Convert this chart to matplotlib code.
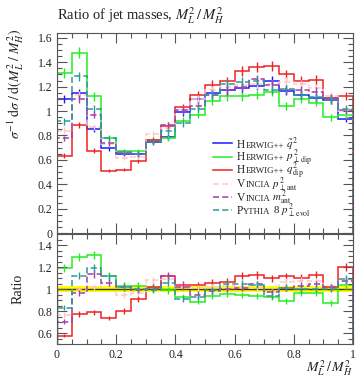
import numpy as np
import matplotlib
matplotlib.use("Agg")
import matplotlib.pyplot as plt
from matplotlib.lines import Line2D
from matplotlib.ticker import MultipleLocator, FuncFormatter
from matplotlib.offsetbox import AnchoredOffsetbox, HPacker, TextArea

plt.rcParams["font.family"] = ["Liberation Serif", "DejaVu Serif"]
plt.rcParams["mathtext.fontset"] = "stix"

# M_L^2 / M_H^2 binning
bin_edges = np.round(np.arange(0.0, 1.0001, 0.05), 2)

herwig_qtilde = [1.10, 1.145, 0.855, 0.695, 0.65, 0.65, 0.75, 0.79, 0.99, 1.095,
                 1.148, 1.17, 1.185, 1.205, 1.25, 1.165, 1.135, 1.11, 1.09, 0.935]
herwig_ptdip = [1.31, 1.48, 1.12, 0.78, 0.67, 0.67, 0.76, 0.78, 0.92, 0.97,
                1.08, 1.12, 1.12, 1.13, 1.155, 1.04, 1.095, 1.07, 0.95, 0.965]
herwig_qdip = [0.635, 0.885, 0.675, 0.512, 0.52, 0.59, 0.765, 0.88, 1.03, 1.13,
               1.215, 1.245, 1.33, 1.36, 1.37, 1.30, 1.25, 1.255, 1.11, 1.125]
vincia_ptant = [0.84, 1.13, 0.87, 0.73, 0.615, 0.625, 0.81, 0.86, 1.01, 1.10,
                1.17, 1.20, 1.21, 1.22, 1.22, 1.24, 1.22, 1.19, 1.12, 1.0]
vincia_mant = [0.775, 1.10, 0.97, 0.735, 0.66, 0.645, 0.75, 0.885, 1.01, 1.04,
               1.13, 1.17, 1.20, 1.26, 1.215, 1.175, 1.17, 1.16, 1.105, 1.005]
pythia_ptevol = [0.915, 1.285, 1.02, 0.775, 0.663, 0.65, 0.745, 0.835, 0.90, 1.02,
                 1.135, 1.225, 1.24, 1.25, 1.175, 1.18, 1.13, 1.115, 1.09, 1.02]

# relative statistical uncertainty of each prediction
rel_err = 0.03

series = [
    ("H", "ERWIG++", r"$\tilde{q}^2$", herwig_qtilde, "#1a1aff", "-"),
    ("H", "ERWIG++", r"$p_{\perp\,\mathrm{dip}}^2$", herwig_ptdip, "#22ee22", "-"),
    ("H", "ERWIG++", r"$q_{\mathrm{dip}}^2$", herwig_qdip, "#ee2222", "-"),
    ("V", "INCIA", r"$p_{\perp\,\mathrm{ant}}^2$", vincia_ptant, "#ffc8c8", (0, (4, 2))),
    ("V", "INCIA", r"$m_{\mathrm{ant}}^2$", vincia_mant, "#a040a8", (0, (4, 2))),
    ("P", "YTHIA", r"8 $p_{\perp\,\mathrm{evol}}^2$", pythia_ptevol, "#309898", (0, (4, 2))),
]

W, H = 356, 380
fig = plt.figure(figsize=(W / 100, H / 100), dpi=100)
ax = fig.add_axes([57 / W, (H - 233) / H, 296 / W, 200 / H])
axr = fig.add_axes([57 / W, (H - 344) / H, 296 / W, 110 / H])

centers = 0.5 * (bin_edges[:-1] + bin_edges[1:])
ref = np.array(herwig_qtilde)

for first, rest, tail, vals, col, ls in series:
    v = np.array(vals)
    ax.stairs(v, bin_edges, color=col, lw=1.1, linestyle=ls)
    ax.errorbar(centers, v, yerr=rel_err * v, fmt="none", ecolor=col, elinewidth=1.0)

# ratio panel relative to the Herwig++ q~^2 prediction
band = rel_err * np.ones_like(ref)
axr.stairs(1 + band, bin_edges, baseline=1 - band, fill=True, color="#ffff00", lw=0)
axr.stairs(np.ones_like(ref), bin_edges, color="#333333", lw=1.0)
for first, rest, tail, vals, col, ls in series[1:]:
    r = np.array(vals) / ref
    axr.stairs(r, bin_edges, color=col, lw=1.1, linestyle=ls)
    axr.errorbar(centers, r, yerr=rel_err * r, fmt="none", ecolor=col, elinewidth=1.0)

fmt = FuncFormatter(lambda x, p: "%g" % round(x, 3))
for a in (ax, axr):
    a.set_xlim(0, 1)
    a.xaxis.set_major_locator(MultipleLocator(0.2))
    a.xaxis.set_minor_locator(MultipleLocator(0.05))
    a.yaxis.set_major_locator(MultipleLocator(0.2))
    a.yaxis.set_minor_locator(MultipleLocator(0.05))
    a.tick_params(which="both", direction="in", top=True, right=True, colors="#555555",
                  labelcolor="#222222", labelsize=8.5, width=0.8)
    a.tick_params(which="major", length=7)
    a.tick_params(which="minor", length=3.5)
    a.yaxis.set_major_formatter(fmt)
    a.xaxis.set_major_formatter(fmt)
    for s in a.spines.values():
        s.set_color("#555555")
        s.set_linewidth(0.8)

ax.set_ylim(0, 1.64)
ax.tick_params(labelbottom=False)
axr.set_ylim(0.5, 1.5)
axr.set_yticks([0.6, 0.8, 1.0, 1.2, 1.4])

fig.text(57 / W, 1 - 20 / H, r"Ratio of jet masses, $M_L^2\,/\,M_H^2$", fontsize=10.5,
         ha="left", va="baseline", color="#222222")
fig.text(16 / W, 1 - 28 / H, r"$\sigma^{-1}\;\mathrm{d}\sigma\;/\;\mathrm{d}(M_L^2\;/\;M_H^2)$",
         rotation=90, ha="center", va="top", fontsize=10, color="#222222")
fig.text(18 / W, 1 - 289 / H, "Ratio", rotation=90, ha="center", va="center",
         fontsize=10, color="#222222")
fig.text(353 / W, 1 - 372 / H, r"$M_L^2\,/\,M_H^2$", ha="right", va="baseline",
         fontsize=10, color="#222222")

# legend with small-caps generator names
row_y0, row_dy = 143.3, 13.4
for i, (first, rest, tail, vals, col, ls) in enumerate(series):
    y = row_y0 + row_dy * i
    yf = (233 - y) / 200
    ax.add_line(Line2D([(213 - 57) / 296, (232 - 57) / 296], [yf, yf], color=col, lw=1.1,
                       linestyle=ls, transform=ax.transAxes))
    parts = [TextArea(first, textprops=dict(size=8.3, color="#222222")),
             TextArea(rest, textprops=dict(size=6.4, color="#222222")),
             TextArea(" " + tail, textprops=dict(size=7.8, color="#222222"))]
    row = HPacker(children=parts, align="baseline", pad=0, sep=0)
    box = AnchoredOffsetbox(loc="center left", child=row, pad=0, borderpad=0, frameon=False,
                            bbox_to_anchor=((237 - 57) / 296, yf - 0.005),
                            bbox_transform=ax.transAxes)
    ax.add_artist(box)

fig.savefig("out.png", dpi=100)
